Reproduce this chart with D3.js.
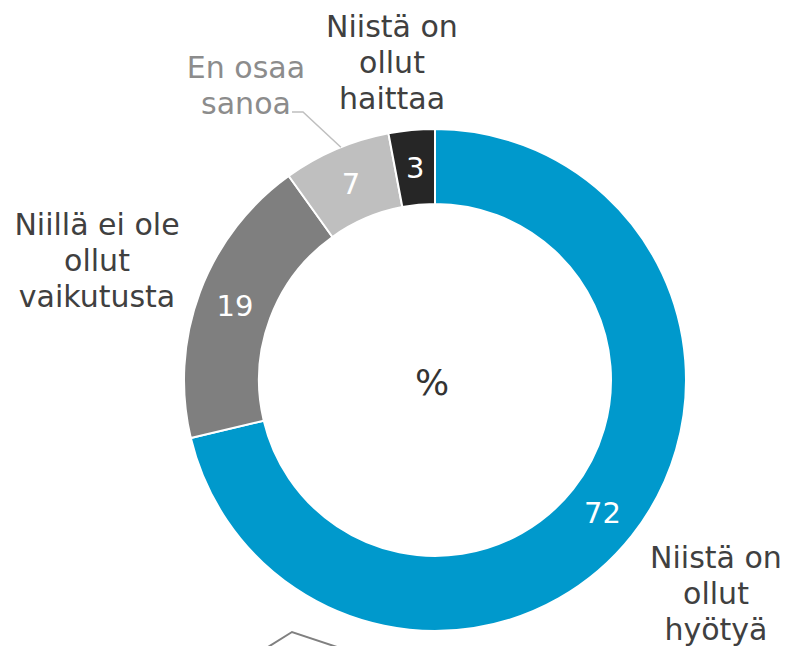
<!DOCTYPE html>
<html>
<head>
<meta charset="utf-8">
<script src="https://cdn.jsdelivr.net/npm/d3@7"></script>
<style>
  body { margin: 0; background: #fff; }
  text { font-family: "DejaVu Sans", Verdana, sans-serif; }
</style>
</head>
<body>
<script>
// Chart data
let categories = ["Niistä on ollut hyötyä", "Niillä ei ole ollut vaikutusta", "En osaa sanoa", "Niistä on ollut haittaa"]
let values = [72, 19, 7, 3]
let colors = ["#0099cc", "#7f7f7f", "#bfbfbf", "#262626"]
let labelLines = [["Niistä on", "ollut", "hyötyä"], ["Niillä ei ole", "ollut", "vaikutusta"], ["En osaa", "sanoa"], ["Niistä on", "ollut", "haittaa"]]
let labelColors = ["#404040", "#404040", "#8c8c8c", "#404040"]

let width = 788, height = 646
let cx = 435, cy = 380
let outerR = 251, innerR = 176

// where each category name block sits (centre x, first baseline)
let labelPos = [[716, 568], [97, 235], [246, 78], [392, 37]]
let lineStep = 36

let svg = d3.select("body").append("svg")
    .attr("width", width)
    .attr("height", height)

let g = svg.append("g").attr("transform", `translate(${cx},${cy})`)

let pie = d3.pie().sort(null).value(d => d)
let arc = d3.arc().innerRadius(innerR).outerRadius(outerR)
let arcs = pie(values)

g.selectAll("path")
  .data(arcs)
  .enter()
  .append("path")
  .attr("d", arc)
  .attr("fill", (d, i) => colors[i])
  .attr("stroke", "#fff")
  .attr("stroke-width", 2)

// values inside the ring
g.selectAll("text.val")
  .data(arcs)
  .enter()
  .append("text")
  .attr("class", "val")
  .attr("transform", d => `translate(${arc.centroid(d)})`)
  .attr("text-anchor", "middle")
  .attr("dy", "0.36em")
  .attr("font-size", 29)
  .attr("fill", "#fff")
  .text(d => d.data)

// leader line for "En osaa sanoa"
let lg = arcs[2]
let lgAngle = (lg.startAngle + lg.endAngle) / 2 + 0.02
let lgEnd = [cx + Math.sin(lgAngle) * outerR, cy - Math.cos(lgAngle) * outerR]
svg.append("path")
  .attr("d", d3.line()([[292, 112], [303, 112], lgEnd]))
  .attr("fill", "none")
  .attr("stroke", "#bfbfbf")
  .attr("stroke-width", 1.5)

// category names
labelLines.forEach((lines, i) => {
  let t = svg.append("text")
    .attr("text-anchor", "middle")
    .attr("font-size", 30)
    .attr("fill", labelColors[i])
  lines.forEach((line, j) => {
    t.append("tspan")
      .attr("x", labelPos[i][0])
      .attr("y", labelPos[i][1] + j * lineStep)
      .text(line)
  })
})

// centre unit
svg.append("text")
  .attr("x", cx - 3)
  .attr("y", 395)
  .attr("text-anchor", "middle")
  .attr("font-size", 36)
  .attr("fill", "#333")
  .text("%")

// leftover leader line from the chart below, cut at the edge
svg.append("path")
  .attr("d", d3.line()([[268, 647], [292, 632], [337, 647]]))
  .attr("fill", "none")
  .attr("stroke", "#808080")
  .attr("stroke-width", 2)
</script>
</body>
</html>
